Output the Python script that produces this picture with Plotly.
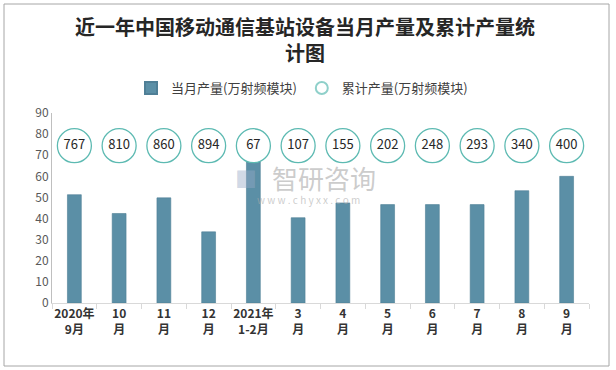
import plotly.graph_objects as go

categories = ["2020年<br>9月", "10<br>月", "11<br>月", "12<br>月", "2021年<br>1-2月", "3<br>月",
              "4<br>月", "5<br>月", "6<br>月", "7<br>月", "8<br>月", "9<br>月"]
monthly = [51.3, 42.4, 49.8, 33.7, 66.8, 40.4, 47.4, 46.6, 46.6, 46.6, 53.2, 60.0]
cumulative = [767, 810, 860, 894, 67, 107, 155, 202, 248, 293, 340, 400]

bar_color = "#5b8fa6"
circle_color = "#5dbab2"
circle_level = 74.5  # vertical placement of the cumulative labels

fig = go.Figure()
fig.add_trace(go.Bar(
    x=categories, y=monthly, name="当月产量(万射频模块)",
    marker=dict(color=bar_color, line=dict(color="#4f7f96", width=0.6)),
    width=0.31,
))
fig.add_trace(go.Scatter(
    x=categories, y=[circle_level] * len(categories),
    mode="markers+text", text=[str(v) for v in cumulative],
    textposition="middle center",
    textfont=dict(family="Noto Sans CJK SC, sans-serif", size=13, color="#262626"),
    marker=dict(symbol="circle", size=34, color="white",
                line=dict(color=circle_color, width=1.3)),
    showlegend=False, hoverinfo="skip",
))
fig.add_trace(go.Scatter(
    x=[None], y=[None], mode="markers", name="累计产量(万射频模块)",
    marker=dict(symbol="circle", size=8, color="white",
                line=dict(color="#8fd0ca", width=1.5)),
))

W, H = 616, 370
L, R, T, B = 52, 27, 113, 67
pw, ph = W - L - R, H - T - B

def px_x(p):
    return (p - L) / pw

def px_y(p):
    return (H - B - p) / ph

fig.update_layout(
    width=W, height=H,
    margin=dict(l=L, r=R, t=T, b=B, autoexpand=False),
    paper_bgcolor="white", plot_bgcolor="white",
    font=dict(family="Noto Sans CJK SC, sans-serif", color="#404040"),
    title=dict(
        text="近一年中国移动通信基站设备当月产量及累计产量统<br>计图",
        x=0.495, xanchor="center", y=1 - 35 / H, yanchor="middle", yref="container",
        font=dict(family="Noto Sans CJK SC, sans-serif", size=20, color="#262626", weight="bold"),
    ),
    legend=dict(
        orientation="h", x=px_x(302), xanchor="center", y=px_y(88), yanchor="middle",
        font=dict(size=13, color="#404040"), itemsizing="constant",
        bgcolor="rgba(0,0,0,0)", traceorder="normal",
    ),
    xaxis=dict(
        showgrid=False, showline=True, linecolor="#d9d9d9", linewidth=1,
        ticks="outside", tickson="boundaries", ticklen=5, tickcolor="#d9d9d9",
        tickfont=dict(size=12, color="#333333", weight="bold"),
        tickangle=0, automargin=False,
        range=[-0.5, 11.5],
    ),
    yaxis=dict(
        range=[0, 90], dtick=10, showgrid=False, showline=True,
        linecolor="#bfbfbf", linewidth=1, ticks="", zeroline=False,
        tickfont=dict(size=12, color="#595959"), automargin=False,
    ),
    shapes=[dict(
        type="rect", xref="paper", yref="paper",
        x0=px_x(4), x1=px_x(609), y0=px_y(366), y1=px_y(4),
        line=dict(color="#a6a6a6", width=1), fillcolor="rgba(0,0,0,0)", layer="below",
    )],
    annotations=[
        dict(text="智研咨询", xref="paper", yref="paper", x=px_x(324), y=px_y(177),
             showarrow=False, font=dict(size=26, color="rgba(170,170,170,0.6)")),
        dict(text="w w w . c h y x x . c o m", xref="paper", yref="paper",
             x=px_x(308), y=px_y(199), showarrow=False,
             font=dict(size=10, color="rgba(170,170,170,0.6)")),
        dict(text="■", xref="paper", yref="paper", x=px_x(246), y=px_y(177),
             showarrow=False, font=dict(size=22, color="rgba(150,170,200,0.45)")),
    ],
)

fig.write_html("out.html", config={"displayModeBar": False},
               post_script="document.body.style.margin='0';")
